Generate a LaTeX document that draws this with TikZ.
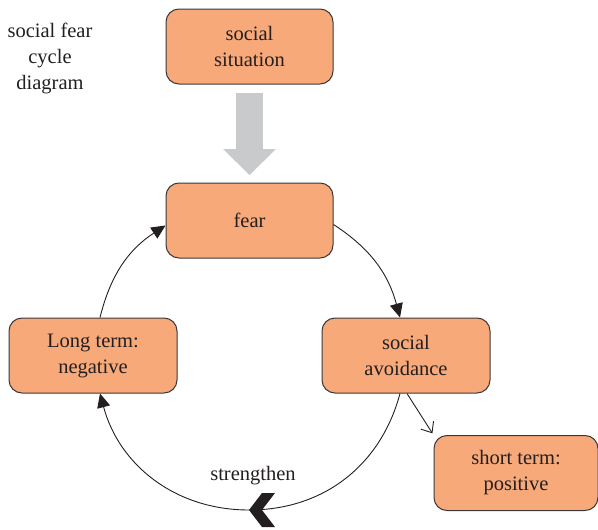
\documentclass[tikz,border=0pt]{standalone}
\usepackage{fontspec}
\setmainfont{Liberation Serif}
\usetikzlibrary{arrows.meta}
\definecolor{boxfill}{RGB}{247,169,122}
\definecolor{boxline}{RGB}{60,56,57}
\definecolor{bigarrow}{RGB}{201,202,204}
\definecolor{ink}{RGB}{35,31,32}
\newcommand{\bigtext}{\fontsize{20.5}{26}\selectfont}
\tikzset{
  stage/.style={draw=boxline, line width=1pt, fill=boxfill, rounded corners=13pt,
    minimum width=167pt, minimum height=75pt, inner sep=0pt, align=center, text=ink, font=\bigtext},
  loopline/.style={draw=ink, line width=0.9pt},
  looparrow/.style={loopline, -{Triangle[length=14pt,width=13pt]}},
}

\begin{document}
\begin{tikzpicture}[x=1pt,y=1pt]
\useasboundingbox (0,0) rectangle (598,-530);

\node[text=ink, align=center, font=\bigtext] (title) at (50,-58) {social fear\\cycle\\diagram};

\node[stage] (sit) at (249.5,-46.5) {social\\situation};
\node[stage] (fear) at (249.5,-220.5) {fear};
\node[stage, minimum width=168pt] (lt) at (93,-355.5) {Long term:\\negative};
\node[stage, minimum width=168pt] (sa) at (406,-355.5) {social\\avoidance};
\node[stage, minimum width=164pt] (st) at (516,-473) {short term:\\positive};

% grey block arrow
\draw[draw=bigarrow, line width=27pt, -{Triangle[length=26pt,width=53pt,line width=0pt]},
  shorten <=8pt, shorten >=7.5pt] (sit) -- (fear);

% the cycle
\coordinate (bot) at (249,-510);
\draw[looparrow] ([yshift=-4pt]fear.east) to[out=-33, in=105] ([xshift=-6pt]sa.north);
\draw[loopline] ([xshift=-6pt]sa.south) to[out=-105, in=0] (bot);
\draw[looparrow] (bot) to[out=180, in=-75] ([xshift=7pt]lt.south);
\draw[looparrow] ([xshift=7pt]lt.north) to[out=76, in=213] ([yshift=-5pt]fear.west);
\fill[ink] (bot) -- ++(13,17) -- ++(13,0) -- ++(-13,-17) -- ++(13,-17) -- ++(-13,0) -- cycle;
\node[text=ink, font=\bigtext] (strg) at (253,-476) {strengthen};

\draw[loopline, -{Straight Barb[length=9pt,width=15pt]}, shorten >=2pt]
  ([xshift=1pt]sa.south) -- (st.north west);

\end{tikzpicture}
\end{document}
